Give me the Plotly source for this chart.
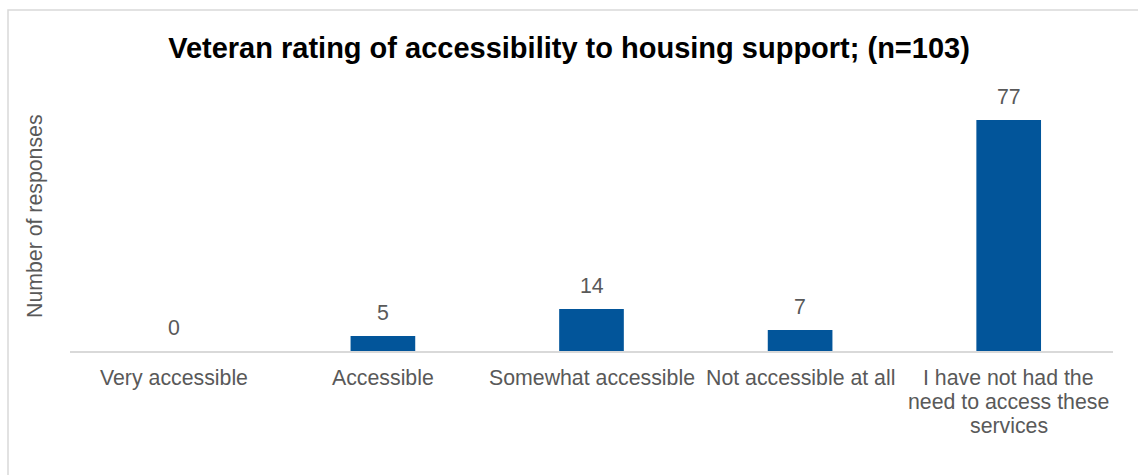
import plotly.graph_objects as go

categories = [
    "Very accessible",
    "Accessible",
    "Somewhat accessible",
    "Not accessible at all",
    "I have not had the<br>need to access these<br>services",
]
responses = [0, 5, 14, 7, 77]

TEXT_GREY = "#595959"
BAR_BLUE = "#02559A"
FONT = "Liberation Sans, Arial, sans-serif"
FS = 21.3          # 16pt body text
PLOT_H = 270       # plot-area height in px
LINE_STEP = 24     # category label line spacing in px

fig = go.Figure(
    go.Bar(
        x=categories,
        y=responses,
        marker=dict(color=BAR_BLUE, line=dict(width=0)),
        cliponaxis=False,
    )
)

fig.update_layout(
    width=1138,
    height=475,
    margin=dict(l=70, r=25, t=81, b=124),
    paper_bgcolor="white",
    plot_bgcolor="white",
    bargap=0.69,
    showlegend=False,
    title=dict(
        text="<b>Veteran rating of accessibility to housing support; (n=103)</b>",
        x=0.5,
        xanchor="center",
        y=1 - 48 / 475,
        yref="container",
        yanchor="middle",
        font=dict(family=FONT, size=29, color="black"),
    ),
    font=dict(family=FONT, size=FS, color=TEXT_GREY),
)

fig.update_xaxes(
    showline=True,
    linecolor="#d9d9d9",
    linewidth=1.5,
    ticks="",
    showticklabels=False,
    showgrid=False,
    fixedrange=True,
)

fig.update_yaxes(
    range=[0, 90],
    showticklabels=False,
    showgrid=False,
    zeroline=False,
    showline=False,
    ticks="",
    fixedrange=True,
)

# Value labels above each bar
for cat, val in zip(categories, responses):
    fig.add_annotation(
        x=cat, xref="x", y=val, yref="y",
        text=str(val), showarrow=False,
        xanchor="center", yanchor="middle", yshift=23.5,
        font=dict(family=FONT, size=FS, color=TEXT_GREY),
    )

# Category labels, one annotation per text line for tighter line spacing
for cat in categories:
    for i, line in enumerate(cat.split("<br>")):
        fig.add_annotation(
            x=cat, xref="x",
            y=-(27 + i * LINE_STEP) / PLOT_H, yref="paper",
            text=line, showarrow=False,
            xanchor="center", yanchor="middle",
            font=dict(family=FONT, size=FS, color=TEXT_GREY),
        )

# Y-axis title
fig.add_annotation(
    x=-35 / 1043, xref="paper",
    y=0.5, yref="paper",
    text="Number of responses", textangle=-90, showarrow=False,
    xanchor="center", yanchor="middle",
    font=dict(family=FONT, size=FS, color=TEXT_GREY),
)

# Chart-area frame
fig.add_shape(
    type="rect",
    xref="paper", yref="paper",
    x0=-62 / 1043, x1=1.1,
    y0=-0.6, y1=1 + 71 / PLOT_H,
    line=dict(color="#d9d9d9", width=1.5),
    fillcolor="rgba(0,0,0,0)",
    layer="below",
)

fig.write_html("out.html")
